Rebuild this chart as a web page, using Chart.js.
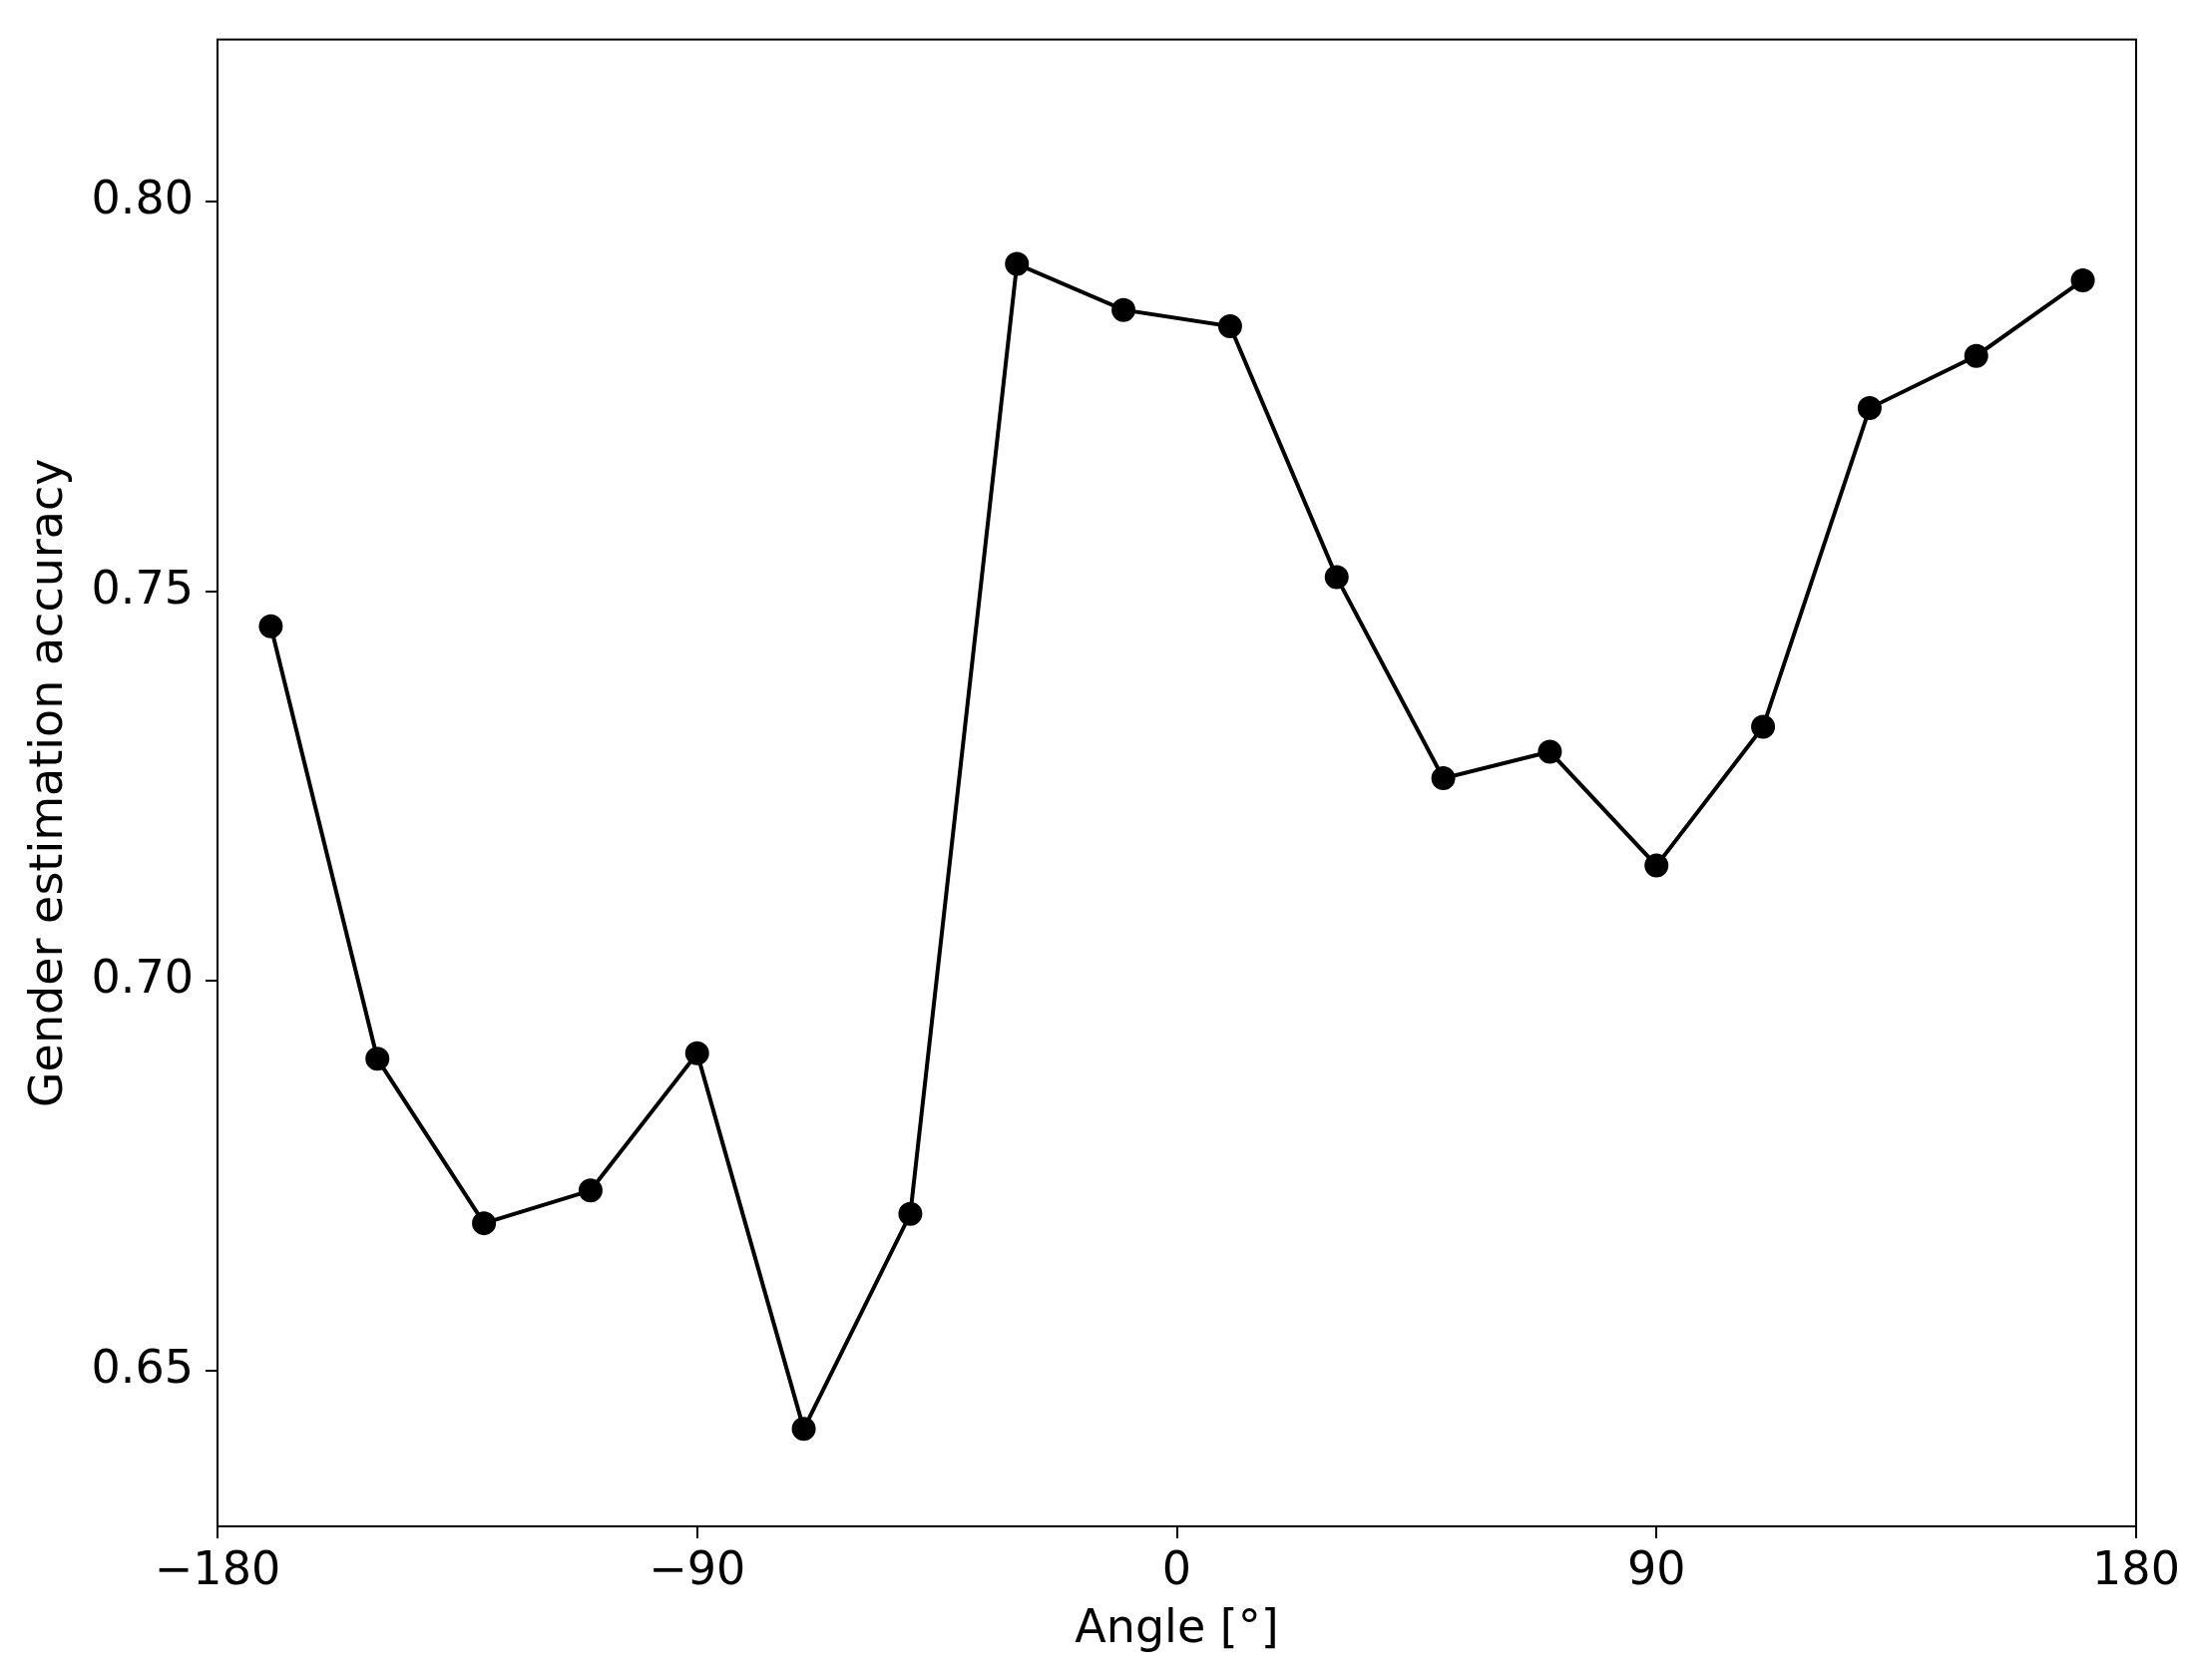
<!DOCTYPE html>
<html><head><meta charset="utf-8">
<script src="https://cdn.jsdelivr.net/npm/chart.js@4"></script>
<style>html,body{margin:0;padding:0;background:#fff}</style>
</head><body>
<canvas id="c" width="2195" height="1684"></canvas>
<script>
const angles = [-170,-150,-130,-110,-90,-70,-50,-30,-10,10,30,50,70,90,110,130,150,170];
const accuracy = [0.7455,0.690,0.6689,0.6731,0.6907,0.6425,0.6701,0.792,0.7861,0.784,0.7518,0.726,0.7294,0.7148,0.7326,0.7735,0.7802,0.7899];
const xTicks = [-180,-90,0,90,180];
const yTicks = [0.65,0.70,0.75,0.80];
const fmtNum = v => (v<0?'\u2212':'') + Math.abs(v);
const font = {family:'"DejaVu Sans"', size:46};
const box = {id:'box', afterDraw(ch){const a=ch.chartArea,c=ch.ctx;c.save();c.strokeStyle='#000';c.lineWidth=2;c.strokeRect(a.left,a.top,a.right-a.left,a.bottom-a.top);c.restore();}};
new Chart(document.getElementById('c'),{
 type:'line',
 data:{datasets:[{data:angles.map((a,i)=>({x:a,y:accuracy[i]})),borderColor:'#000',backgroundColor:'#000',borderWidth:4,pointRadius:10,pointHoverRadius:10,tension:0}]},
 options:{responsive:false,devicePixelRatio:1,animation:false,
  layout:{padding:{top:25,right:54,left:22,bottom:22}},
  plugins:{legend:{display:false},tooltip:{enabled:false}},
  scales:{
   x:{type:'linear',min:-180,max:180,
     afterBuildTicks:s=>{s.ticks=xTicks.map(v=>({value:v}));},
     afterFit:s=>{s.height=132;},
     grid:{drawOnChartArea:false,drawTicks:true,tickLength:12,color:'#000',lineWidth:2},
     border:{color:'#000',width:2},
     ticks:{font,color:'#000',padding:6,maxRotation:0,callback:v=>fmtNum(v)},
     title:{display:true,text:'Angle [°]',font,color:'#000',padding:{top:0,bottom:0}}},
   y:{type:'linear',min:0.630,max:0.8208,
     afterBuildTicks:s=>{s.ticks=yTicks.map(v=>({value:v}));},
     afterFit:s=>{s.width=196;},
     grid:{drawOnChartArea:false,drawTicks:true,tickLength:12,color:'#000',lineWidth:2},
     border:{color:'#000',width:2},
     ticks:{font,color:'#000',padding:12,callback:v=>v.toFixed(2)},
     title:{display:true,text:'Gender estimation accuracy',font,color:'#000',padding:{top:0,bottom:0}}}
  }},
 plugins:[box]
});
</script>
</body></html>
